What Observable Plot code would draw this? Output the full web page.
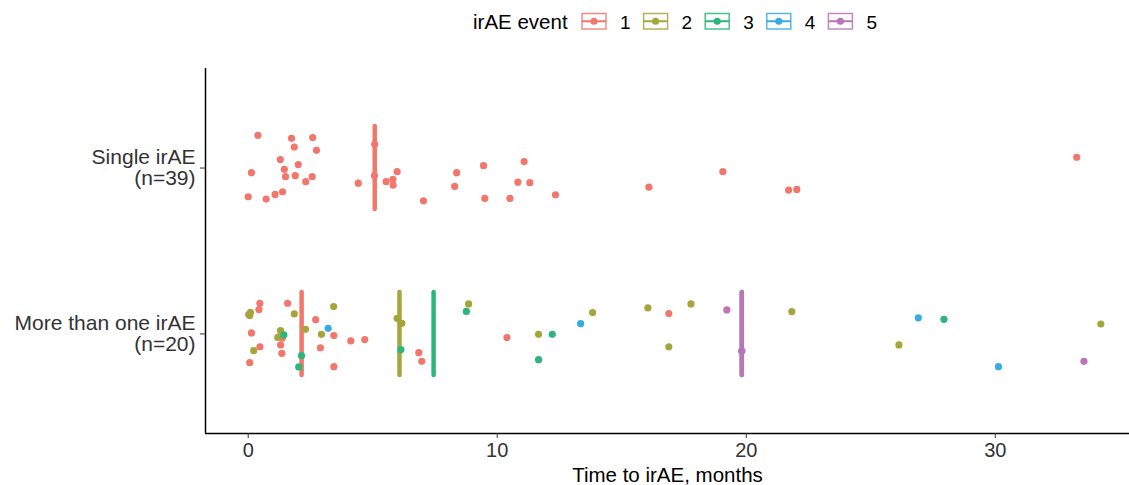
<!DOCTYPE html>
<html><head><meta charset="utf-8">
<script src="https://cdn.jsdelivr.net/npm/d3@7"></script>
<script src="https://cdn.jsdelivr.net/npm/@observablehq/plot@0.6"></script>
<style>
body{margin:0;background:#fff;font-family:"Liberation Sans",Arial,sans-serif;}
#legend{height:45px;width:1129px;}
</style></head><body>
<div id="legend"></div><div id="chart"></div>
<script>
// ---- data ----
const groupLabels = ["More than one irAE\n(n=20)", "Single irAE\n(n=39)"]; // y = 1, 2
const events = ["1", "2", "3", "4", "5"];
const eventColors = ["#F1776D", "#A5A63A", "#2CB67C", "#38ACE2", "#BE73B4"];
const xTicks = [0, 10, 20, 30];
const xTitle = "Time to irAE, months";
const legendTitle = "irAE event";

// Single irAE (all event 1): time (months) and vertical jitter (band units)
const singleTime   = [0.39,1.74,2.59,1.85,2.74,1.29,2.01,1.45,0.13,1.50,1.89,2.57,2.31,0.00,0.72,1.08,1.38,5.08,5.07,4.42,5.54,5.81,5.82,5.98,7.04,8.37,8.29,9.45,9.50,10.51,11.08,10.83,11.31,12.34,16.09,19.06,21.70,22.03,33.27];
const singleJitter = [0.197,0.179,0.184,0.127,0.107,0.051,0.021,-0.008,-0.028,-0.052,-0.046,-0.052,-0.082,-0.173,-0.187,-0.159,-0.143,0.143,-0.046,-0.091,-0.082,-0.068,-0.103,-0.022,-0.197,-0.028,-0.111,0.014,-0.183,-0.183,0.039,-0.085,-0.088,-0.161,-0.115,-0.022,-0.133,-0.129,0.065];

// More than one irAE, per event
const multiE1Time   = [0.47,0.43,1.58,0.13,0.47,0.06,1.30,1.37,1.35,2.71,2.90,3.44,3.44,4.12,4.68,6.85,6.97,10.39,16.89,0.02];
const multiE1Jitter = [0.185,0.147,0.185,0.006,-0.077,-0.173,-0.066,-0.024,-0.117,0.086,-0.083,-0.010,-0.197,-0.042,-0.034,-0.113,-0.165,-0.022,0.123,0.117];
const multiE2Time   = [0.09,0.06,0.22,1.85,1.30,1.19,2.30,2.94,3.43,5.98,6.17,8.85,11.66,13.83,16.05,17.78,16.89,21.83,26.13,34.24];
const multiE2Jitter = [0.130,0.111,-0.101,0.121,0.020,-0.021,0.028,-0.002,0.165,0.094,0.064,0.181,-0.002,0.129,0.157,0.181,-0.077,0.135,-0.066,0.060];
const multiE3Time   = [1.43,2.14,2.03,6.13,8.76,12.21,11.66,27.94];
const multiE3Jitter = [-0.006,-0.131,-0.199,-0.095,0.136,-0.002,-0.155,0.088];
const multiE4Time   = [3.21,13.35,19.82,26.91,30.13];
const multiE4Jitter = [0.034,0.062,-0.103,0.097,-0.197];
const multiE5Time   = [19.22,19.82,33.56];
const multiE5Jitter = [0.145,-0.103,-0.165];

// ---- build table ----
const data = [];
singleTime.forEach((t, i) => data.push({group: 2, event: "1", time: t, jit: singleJitter[i]}));
[[multiE1Time, multiE1Jitter], [multiE2Time, multiE2Jitter], [multiE3Time, multiE3Jitter],
 [multiE4Time, multiE4Jitter], [multiE5Time, multiE5Jitter]].forEach(([ts, js], k) => {
  ts.forEach((t, i) => data.push({group: 1, event: events[k], time: t, jit: js[i]}));
});
const medians = [];
for (const g of [2, 1]) for (const e of events) {
  const vals = data.filter(d => d.group === g && d.event === e).map(d => d.time);
  if (vals.length) medians.push({group: g, event: e, time: d3.median(vals)});
}

const xDomain = [-1.715, 35.39];
const yDomain = [0.4, 2.6];

const chart = Plot.plot({
  width: 1129, height: 440,
  marginTop: 23, marginBottom: 52, marginLeft: 205, marginRight: 0,
  style: {fontFamily: "'Liberation Sans', Arial, sans-serif", background: "white"},
  x: {domain: xDomain},
  y: {domain: yDomain},
  color: {domain: events, range: eventColors},
  marks: [
    Plot.ruleX(medians, {x: "time", y1: d => d.group - 0.25, y2: d => d.group + 0.25,
      stroke: "event", strokeWidth: 4.5, strokeLinecap: "round"}),
    Plot.dot(data, {x: "time", y: d => d.group + d.jit, fill: "event", r: 3.6, stroke: "none"}),
    Plot.ruleX([xDomain[0]], {stroke: "#000", strokeWidth: 1.5}),
    Plot.ruleY([yDomain[0]], {stroke: "#000", strokeWidth: 1.5}),
    Plot.axisX({ticks: xTicks, tickFormat: d => String(d), tickSize: 5, tickPadding: 4,
      fontSize: 20, color: "#333", stroke: "#333", label: null}),
    Plot.axisY({ticks: [1, 2], tickFormat: d => groupLabels[d - 1], tickSize: 5, tickPadding: 5,
      fontSize: 21, lineHeight: 1.0, fill: "#333", stroke: "#333", label: null}),
    Plot.text([xTitle], {frameAnchor: "bottom", lineAnchor: "middle", dy: 42, fontSize: 20.5, fill: "#000"})
  ]
});
document.getElementById("chart").appendChild(chart);

// ---- legend ----
const lsvg = d3.select("#legend").append("svg").attr("width", 1129).attr("height", 45)
  .style("font-family", "'Liberation Sans', Arial, sans-serif");
lsvg.append("text").attr("x", 473).attr("y", 22).attr("dy", "0.35em")
  .attr("font-size", 20.5).attr("fill", "#000").text(legendTitle);
events.forEach((e, i) => {
  const x0 = 582 + i * 61.6, c = eventColors[i];
  const g = lsvg.append("g");
  g.append("rect").attr("x", x0).attr("y", 13.5).attr("width", 24).attr("height", 15.5)
    .attr("fill", "none").attr("stroke", c).attr("stroke-width", 1.5).attr("opacity", 0.85);
  g.append("line").attr("x1", x0).attr("x2", x0 + 24).attr("y1", 21.25).attr("y2", 21.25)
    .attr("stroke", c).attr("stroke-width", 2);
  g.append("circle").attr("cx", x0 + 12).attr("cy", 21.25).attr("r", 3.6).attr("fill", c);
  g.append("text").attr("x", x0 + 38).attr("y", 22).attr("dy", "0.35em")
    .attr("font-size", 19).attr("fill", "#000").text(e);
});
</script>
</body></html>
